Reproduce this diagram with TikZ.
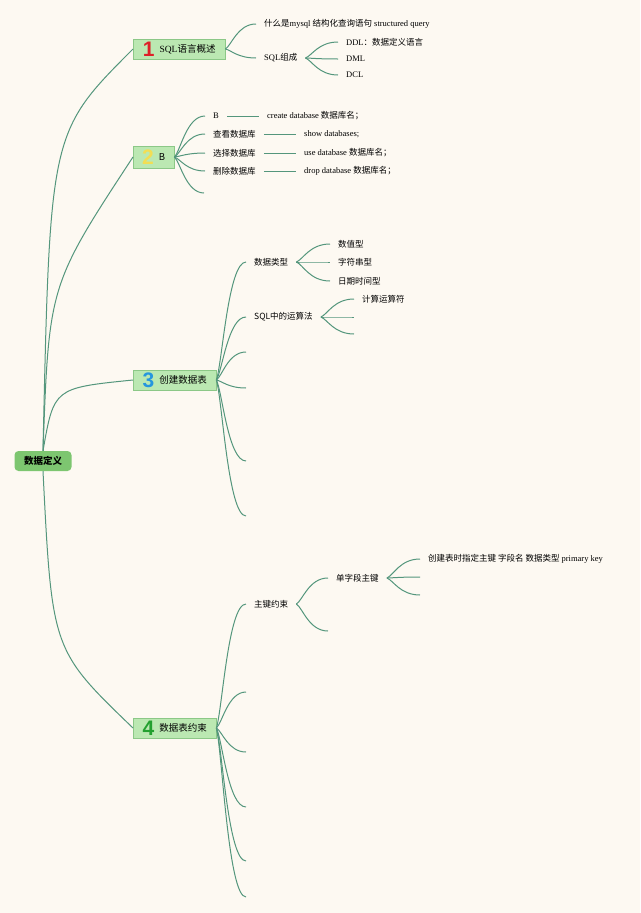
\documentclass[tikz,border=0pt]{standalone}
\usepackage{fontspec}
\setmainfont{Liberation Serif}
\newfontfamily\cjk{Noto Sans CJK SC}
\newfontfamily\numfont{Liberation Sans}
\usetikzlibrary{calc}
\definecolor{paper}{RGB}{253,249,242}
\definecolor{branch}{RGB}{84,150,124}
\definecolor{boxfill}{RGB}{187,232,178}
\definecolor{boxline}{RGB}{140,200,135}
\definecolor{rootfill}{RGB}{125,198,112}
\definecolor{numred}{RGB}{222,32,40}
\definecolor{numyellow}{RGB}{242,222,84}
\definecolor{numblue}{RGB}{38,150,222}
\definecolor{numgreen}{RGB}{36,160,48}
\newcommand{\zh}[1]{{\cjk #1}}
\newcommand{\bignum}[2]{\raisebox{-4pt}{\numfont\bfseries\fontsize{21}{21}\selectfont\color{#1}#2}}

\begin{document}
\begin{tikzpicture}[x=1pt, y=-1pt,
  link/.style={draw=branch, line width=1pt},
  sprout/.style={to path={let \p1=(\tikztostart), \p2=(\tikztotarget) in
    .. controls ({\x1+0.2*(\x2-\x1)},{\y1+0.15*(\y2-\y1)}) and ({\x1+0.4*(\x2-\x1)},\y2) .. (\tikztotarget)}},
  topic/.style={draw=boxline, fill=boxfill, anchor=west, minimum height=20pt, inner sep=0pt, font=\fontsize{9.5}{10}\selectfont},
  rootbox/.style={fill=rootfill, rounded corners=4pt, minimum width=57pt, minimum height=20pt, inner sep=0pt, font=\cjk\bfseries\fontsize{9.5}{10}\selectfont},
  leaf/.style={anchor=west, inner xsep=8pt, inner ysep=2pt, font=\fontsize{8.5}{9}\selectfont}]
  \fill[paper] (0,0) rectangle (640,913);
  \useasboundingbox (0,0) rectangle (640,913);

  % root and the four topics
  \node[rootbox] (root) at (43,461) {数据定义};
  \node[topic, minimum width=92pt] (n1) at (133,49) {\bignum{numred}{1}\hspace{5pt}SQL\zh{语言概述}};
  \node[topic, minimum width=41pt, minimum height=22pt] (n2) at (133,157) {\bignum{numyellow}{2}\hspace{5pt}\zh{B}};
  \node[topic, minimum width=83pt] (n3) at (133,380) {\bignum{numblue}{3}\hspace{5pt}\zh{创建数据表}};
  \node[topic, minimum width=83pt] (n4) at (133,728) {\bignum{numgreen}{4}\hspace{5pt}\zh{数据表约束}};

  \draw[link] (root.north) .. controls (50,132) .. (n1.west);
  \draw[link] (root.north) .. controls (49,285) .. (n2.west);
  \draw[link] (root.north) .. controls (54,388) .. (n3.west);
  \draw[link] (root.south) .. controls (52,650) .. (n4.west);

  % 1
  \node[leaf] (a1) at (256,24) {\zh{什么是}mysql \zh{结构化查询语句} structured query};
  \node[leaf] (a2) at (256,58) {SQL\zh{组成}};
  \node[leaf] (a21) at (338,42) {DDL\zh{：数据定义语言}};
  \node[leaf] (a22) at (338,59) {DML};
  \node[leaf] (a23) at (338,75) {DCL};
  \draw[link] (n1.east) to[sprout] (a1.west);
  \draw[link] (n1.east) to[sprout] (a2.west);
  \foreach \k in {a21,a22,a23}
    \draw[link] (a2.east) to[sprout] (\k.west);

  % 2
  \node[leaf] (b1) at (205,116) {B};
  \node[leaf] (b2) at (205,134) {\zh{查看数据库}};
  \node[leaf] (b3) at (205,153) {\zh{选择数据库}};
  \node[leaf] (b4) at (205,171) {\zh{删除数据库}};
  \coordinate (b5) at (204,193);
  \node[leaf] (b1x) at (259,116) {create database \zh{数据库名；}};
  \node[leaf] (b2x) at (296,134) {show databases;};
  \node[leaf] (b3x) at (296,153) {use database \zh{数据库名；}};
  \node[leaf] (b4x) at (296,171) {drop database \zh{数据库名；}};
  \foreach \k in {b1,b2,b3,b4} {
    \draw[link] (n2.east) to[sprout] (\k.west);
    \draw[link] (\k.east) -- (\k x.west);
  }
  \draw[link] (n2.east) to[sprout] (b5);

  % 3
  \node[leaf] (c1) at (246,262) {\zh{数据类型}};
  \node[leaf] (c11) at (330,244) {\zh{数值型}};
  \node[leaf] (c12) at (330,262) {\zh{字符串型}};
  \node[leaf] (c13) at (330,281) {\zh{日期时间型}};
  \node[leaf] (c2) at (246,317) {\zh{SQL中的运算法}};
  \node[leaf] (c21) at (354,299) {\zh{计算运算符}};
  \coordinate (c22) at (354,317);
  \coordinate (c23) at (354,334);
  \coordinate (c3) at (246,352);
  \coordinate (c4) at (246,388);
  \coordinate (c5) at (246,461);
  \coordinate (c6) at (246,516);
  \draw[link] (n3.east) to[sprout] (c1.west);
  \draw[link] (n3.east) to[sprout] (c2.west);
  \foreach \k in {c3,c4,c5,c6}
    \draw[link] (n3.east) to[sprout] (\k);
  \foreach \k in {c11,c12,c13}
    \draw[link] (c1.east) to[sprout] (\k.west);
  \draw[link] (c2.east) to[sprout] (c21.west);
  \draw[link] (c2.east) to[sprout] (c22);
  \draw[link] (c2.east) to[sprout] (c23);

  % 4
  \node[leaf] (d1) at (246,604) {\zh{主键约束}};
  \node[leaf] (d11) at (328,578) {\zh{单字段主键}};
  \coordinate (d12) at (328,631);
  \node[leaf] (d111) at (420,559) {\zh{创建表时指定主键 字段名 数据类型} primary key};
  \coordinate (d112) at (420,577);
  \coordinate (d113) at (420,595);
  \coordinate (d2) at (246,692);
  \coordinate (d3) at (246,752);
  \coordinate (d4) at (246,807);
  \coordinate (d5) at (246,861);
  \coordinate (d6) at (246,897);
  \draw[link] (n4.east) to[sprout] (d1.west);
  \foreach \k in {d2,d3,d4,d5,d6}
    \draw[link] (n4.east) to[sprout] (\k);
  \draw[link] (d1.east) to[sprout] (d11.west);
  \draw[link] (d1.east) to[sprout] (d12);
  \draw[link] (d11.east) to[sprout] (d111.west);
  \draw[link] (d11.east) to[sprout] (d112);
  \draw[link] (d11.east) to[sprout] (d113);
\end{tikzpicture}
\end{document}
